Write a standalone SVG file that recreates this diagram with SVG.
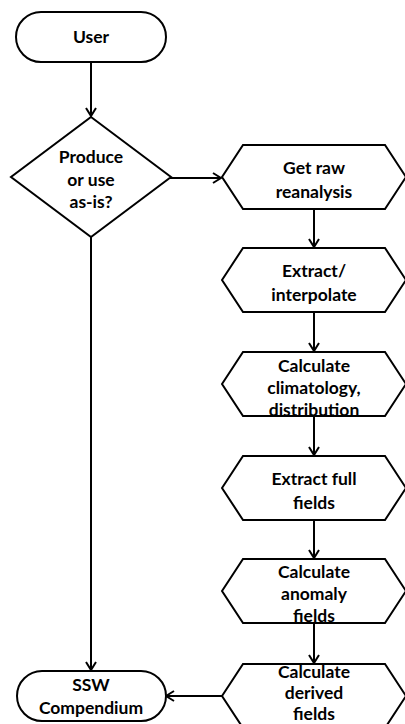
<svg xmlns="http://www.w3.org/2000/svg" width="405" height="724" viewBox="0 0 405 724">
<defs>
<style>
.s{fill:#fff;stroke:#000;stroke-width:2;stroke-linejoin:miter}
.t{font-family:Lato,"Open Sans","Liberation Sans",sans-serif;font-weight:bold;font-size:17.5px;fill:#000;text-anchor:middle}
.c{fill:none;stroke:#000;stroke-width:2}
</style>
<marker id="ah" viewBox="0 0 12 12" refX="11" refY="6" markerWidth="12" markerHeight="12" markerUnits="userSpaceOnUse" orient="auto">
<polyline points="3,1 11,6 3,11" fill="none" stroke="#000" stroke-width="2"/>
</marker>
</defs>
<g id="connectors">
<line class="c" x1="91" y1="62" x2="91" y2="116" marker-end="url(#ah)"/>
<line class="c" x1="170" y1="178" x2="221" y2="178" marker-end="url(#ah)"/>
<line class="c" x1="91" y1="237" x2="91" y2="670" marker-end="url(#ah)"/>
<line class="c" x1="314" y1="209" x2="314" y2="247" marker-end="url(#ah)"/>
<line class="c" x1="314" y1="312" x2="314" y2="351" marker-end="url(#ah)"/>
<line class="c" x1="314" y1="416" x2="314" y2="455" marker-end="url(#ah)"/>
<line class="c" x1="314" y1="520" x2="314" y2="558" marker-end="url(#ah)"/>
<line class="c" x1="314" y1="623" x2="314" y2="663" marker-end="url(#ah)"/>
<line class="c" x1="222" y1="696" x2="166" y2="696" marker-end="url(#ah)"/>
</g>
<g id="user">
<rect class="s" x="16" y="12" width="150" height="50" rx="25"/>
<text class="t" x="91" y="43">User</text>
</g>
<g id="decision">
<polygon class="s" points="91,117 171,177 91,237 11,177"/>
<text class="t" x="91" y="163">Produce</text>
<text class="t" x="91" y="186">or use</text>
<text class="t" x="91" y="208">as-is?</text>
</g>
<g id="get-raw">
<polygon class="s" points="222,177 243,145 385,145 406,177 385,209 243,209"/>
<text class="t" x="314" y="174">Get raw</text>
<text class="t" x="314" y="198">reanalysis</text>
</g>
<g id="extract">
<polygon class="s" points="222,280 243,248 385,248 406,280 385,312 243,312"/>
<text class="t" x="314" y="277">Extract/</text>
<text class="t" x="314" y="301">interpolate</text>
</g>
<g id="climatology">
<polygon class="s" points="222,384 243,352 385,352 406,384 385,416 243,416"/>
<text class="t" x="314" y="372">Calculate</text>
<text class="t" x="314" y="394">climatology,</text>
<text class="t" x="314" y="416">distribution</text>
</g>
<g id="full-fields">
<polygon class="s" points="222,488 243,456 385,456 406,488 385,520 243,520"/>
<text class="t" x="314" y="485">Extract full</text>
<text class="t" x="314" y="509">fields</text>
</g>
<g id="anomaly">
<polygon class="s" points="222,591 243,559 385,559 406,591 385,623 243,623"/>
<text class="t" x="314" y="578">Calculate</text>
<text class="t" x="314" y="600">anomaly</text>
<text class="t" x="314" y="622">fields</text>
</g>
<g id="derived">
<polygon class="s" points="222,696 243,664 385,664 406,696 385,728 243,728"/>
<text class="t" x="314" y="678">Calculate</text>
<text class="t" x="314" y="699">derived</text>
<text class="t" x="314" y="720">fields</text>
</g>
<g id="ssw">
<rect class="s" x="17" y="671" width="149" height="50" rx="25"/>
<text class="t" x="91" y="691">SSW</text>
<text class="t" x="91" y="714">Compendium</text>
</g>
</svg>
